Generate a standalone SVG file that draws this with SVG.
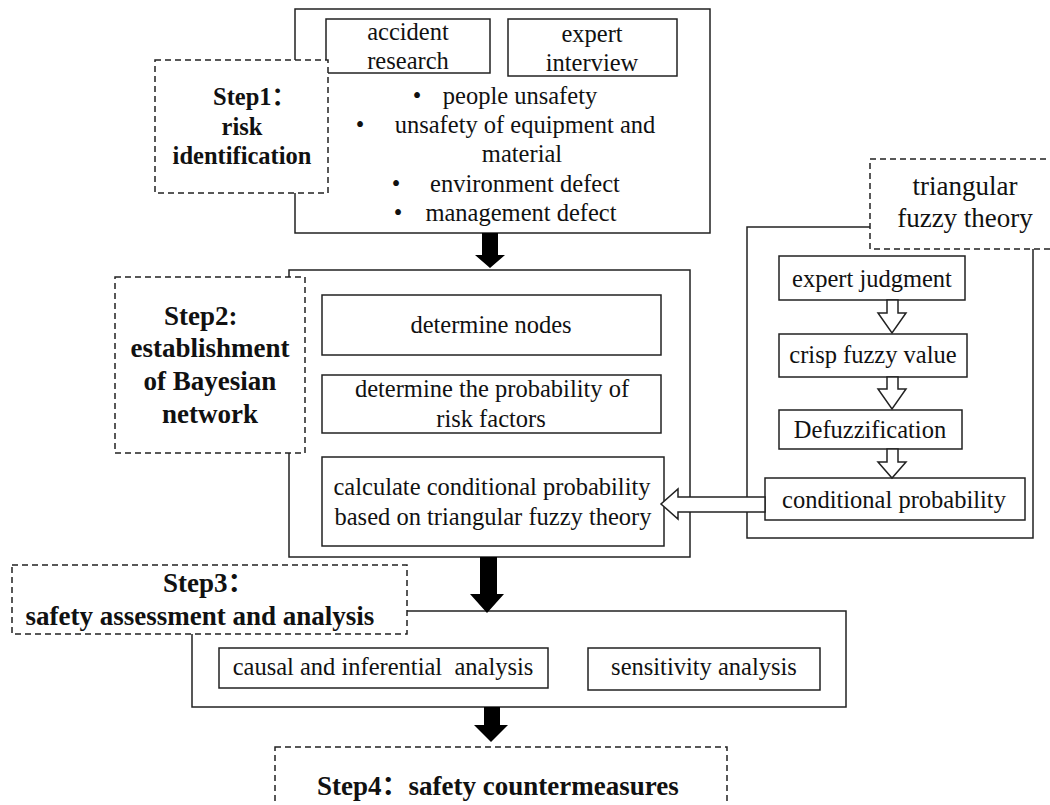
<svg xmlns="http://www.w3.org/2000/svg" width="1050" height="805" viewBox="0 0 1050 805">
<style>
  .box { fill: none; stroke: #222; stroke-width: 1.5; }
  .wbox { fill: #fff; stroke: #222; stroke-width: 1.5; }
  .dash { fill: #fff; stroke: #222; stroke-width: 1.5; stroke-dasharray: 6 4; }
  text { font-family: "Liberation Serif", "Times New Roman", "Noto Sans CJK SC", serif; fill: #111; }
  .t { font-size: 24.5px; text-anchor: middle; }
  .tl { font-size: 27px; text-anchor: middle; }
  .b { font-size: 24.5px; font-weight: bold; }
  .b27 { font-size: 27px; font-weight: bold; }
  .mid { text-anchor: middle; }
  .solid { fill: #000; stroke: none; }
  .hollow { fill: #fff; stroke: #222; stroke-width: 1.5; stroke-linejoin: miter; }
</style>
<rect x="0" y="0" width="1050" height="805" fill="#fff"/>

<g id="step1">
  <rect class="box" x="295" y="9" width="415" height="224"/>
  <g id="accident-research">
    <rect class="box" x="326" y="19" width="164" height="54"/>
    <text class="t" x="408" y="40">accident</text>
    <text class="t" x="408" y="69">research</text>
  </g>
  <g id="expert-interview">
    <rect class="box" x="508" y="19" width="169" height="57"/>
    <text class="t" x="592" y="42">expert</text>
    <text class="t" x="592" y="71">interview</text>
  </g>
  <g id="risk-list">
    <text class="t" x="417" y="104">•</text>
    <text class="t" x="520" y="104">people unsafety</text>
    <text class="t" x="360" y="133">•</text>
    <text class="t" x="525" y="133">unsafety of equipment and</text>
    <text class="t" x="522" y="162">material</text>
    <text class="t" x="396" y="192">•</text>
    <text class="t" x="525" y="192">environment defect</text>
    <text class="t" x="398" y="221">•</text>
    <text class="t" x="521" y="221">management defect</text>
  </g>
  <g id="step1-label">
    <rect class="dash" x="155" y="60" width="173" height="133"/>
    <text class="b" x="213" y="105">Step1：</text>
    <text class="b mid" x="242" y="135">risk</text>
    <text class="b mid" x="242" y="164">identification</text>
  </g>
</g>

<g id="step2">
  <rect class="box" x="289" y="270" width="401" height="287"/>
  <g id="determine-nodes">
    <rect class="box" x="322" y="295" width="339" height="60"/>
    <text class="t" x="491" y="333">determine nodes</text>
  </g>
  <g id="determine-probability">
    <rect class="box" x="322" y="375" width="339" height="58"/>
    <text class="t" x="492" y="397">determine the probability of</text>
    <text class="t" x="491" y="427">risk factors</text>
  </g>
  <g id="calculate-conditional">
    <rect class="box" x="322" y="457" width="342" height="89"/>
    <text class="t" x="492" y="495">calculate conditional probability</text>
    <text class="t" x="493" y="525">based on triangular fuzzy theory</text>
  </g>
  <g id="step2-label">
    <rect class="dash" x="115" y="277" width="190" height="176"/>
    <text class="b27" x="164" y="325">Step2:</text>
    <text class="b27 mid" x="210" y="357">establishment</text>
    <text class="b27 mid" x="210" y="390">of Bayesian</text>
    <text class="b27 mid" x="210" y="423">network</text>
  </g>
</g>

<g id="fuzzy">
  <rect class="box" x="747" y="227" width="286" height="311"/>
  <g id="expert-judgment">
    <rect class="box" x="779" y="256" width="186" height="44"/>
    <text class="t" x="872" y="287">expert judgment</text>
  </g>
  <g id="crisp-fuzzy-value">
    <rect class="box" x="779" y="334" width="188" height="43"/>
    <text class="t" x="873" y="363">crisp fuzzy value</text>
  </g>
  <g id="defuzzification">
    <rect class="box" x="779" y="410" width="183" height="39"/>
    <text class="t" x="870" y="438">Defuzzification</text>
  </g>
  <g id="conditional-probability">
    <rect class="box" x="765" y="478" width="260" height="42"/>
    <text class="t" x="894" y="508">conditional probability</text>
  </g>
  <g id="fuzzy-label">
    <rect class="dash" x="870" y="159" width="200" height="90"/>
    <text class="tl" x="965" y="195">triangular</text>
    <text class="tl" x="965" y="227">fuzzy theory</text>
  </g>
</g>

<g id="step3">
  <rect class="box" x="192" y="611" width="654" height="96"/>
  <g id="causal-analysis">
    <rect class="box" x="219" y="648" width="329" height="40"/>
    <text class="t" x="383" y="675" style="white-space:pre">causal and inferential  analysis</text>
  </g>
  <g id="sensitivity-analysis">
    <rect class="box" x="588" y="648" width="232" height="42"/>
    <text class="t" x="704" y="675">sensitivity analysis</text>
  </g>
  <g id="step3-label">
    <rect class="dash" x="12" y="565" width="395" height="69"/>
    <text class="b27" x="163" y="592">Step3：</text>
    <text class="b27 mid" x="200" y="625">safety assessment and analysis</text>
  </g>
</g>

<g id="step4">
  <rect class="dash" x="275" y="747" width="452" height="80"/>
  <text class="b27" x="317" y="795">Step4：safety countermeasures</text>
</g>

<g id="connectors">
  <polygon class="solid" points="482,233 498,233 498,255 505,255 490,268 475,255 482,255"/>
  <polygon class="solid" points="480,557 497,557 497,594 504,594 487,613 470,594 480,594"/>
  <polygon class="solid" points="484,707 500,707 500,725 508,725 491,742 474,725 484,725"/>
  <polygon class="hollow" points="887,300 898,300 898,313 906,313 892,333 878,313 887,313"/>
  <polygon class="hollow" points="887,377 898,377 898,389 906,389 892,409 878,389 887,389"/>
  <polygon class="hollow" points="887,449 898,449 898,462 906,462 892,478 878,462 887,462"/>
  <polygon class="hollow" points="765,497 678,497 678,489 661,504 678,519 678,512 765,512"/>
</g>
</svg>
